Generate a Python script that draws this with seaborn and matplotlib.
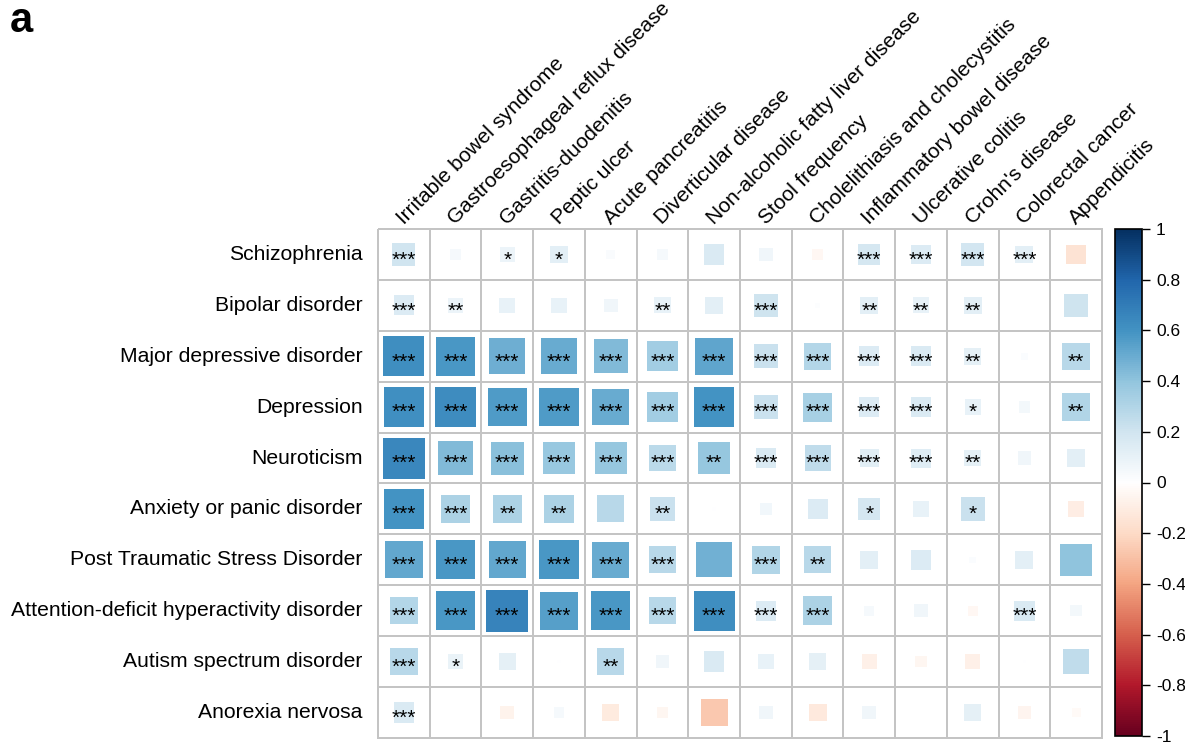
import numpy as np
import pandas as pd
import matplotlib
matplotlib.use("Agg")
import matplotlib.pyplot as plt
import matplotlib.transforms as mtransforms
from matplotlib.colors import LinearSegmentedColormap, ListedColormap, Normalize
from matplotlib.patches import Rectangle
from matplotlib.cm import ScalarMappable
import seaborn as sns

# Psychiatric traits (rows) and gastrointestinal traits (columns)
psychiatric = [
    "Schizophrenia",
    "Bipolar disorder",
    "Major depressive disorder",
    "Depression",
    "Neuroticism",
    "Anxiety or panic disorder",
    "Post Traumatic Stress Disorder",
    "Attention-deficit hyperactivity disorder",
    "Autism spectrum disorder",
    "Anorexia nervosa",
]
gastro = [
    "Irritable bowel syndrome",
    "Gastroesophageal reflux disease",
    "Gastritis-duodenitis",
    "Peptic ulcer",
    "Acute pancreatitis",
    "Diverticular disease",
    "Non-alcoholic fatty liver disease",
    "Stool frequency",
    "Cholelithiasis and cholecystitis",
    "Inflammatory bowel disease",
    "Ulcerative colitis",
    "Crohn's disease",
    "Colorectal cancer",
    "Appendicitis",
]

# Genetic correlations, one list per psychiatric trait
rg_scz = [0.20, 0.04, 0.085, 0.12, 0.03, 0.04, 0.16, 0.07, -0.04, 0.18, 0.15, 0.19, 0.12, -0.15]
rg_bip = [0.15, 0.085, 0.095, 0.095, 0.07, 0.10, 0.12, 0.21, 0.01, 0.12, 0.10, 0.12, 0.0, 0.21]
rg_mdd = [0.62, 0.58, 0.49, 0.50, 0.44, 0.35, 0.53, 0.22, 0.29, 0.15, 0.16, 0.11, 0.02, 0.28]
rg_dep = [0.61, 0.63, 0.57, 0.57, 0.50, 0.35, 0.60, 0.22, 0.33, 0.15, 0.16, 0.10, 0.05, 0.30]
rg_neu = [0.65, 0.44, 0.42, 0.38, 0.39, 0.27, 0.39, 0.16, 0.25, 0.13, 0.14, 0.11, 0.07, 0.12]
rg_anx = [0.60, 0.32, 0.32, 0.32, 0.28, 0.22, 0.005, 0.06, 0.15, 0.18, 0.095, 0.22, 0.0, -0.095]
rg_ptsd = [0.52, 0.58, 0.52, 0.58, 0.50, 0.28, 0.48, 0.30, 0.28, 0.12, 0.15, 0.017, 0.12, 0.40]
rg_adhd = [0.29, 0.58, 0.67, 0.55, 0.58, 0.28, 0.62, 0.15, 0.32, 0.04, 0.07, -0.04, 0.16, 0.05]
rg_asd = [0.28, 0.09, 0.11, 0.005, 0.28, 0.07, 0.16, 0.095, 0.11, -0.085, -0.05, -0.085, 0.004, 0.25]
rg_an = [0.16, 0.0, -0.07, 0.04, -0.11, -0.05, -0.27, 0.07, -0.12, 0.07, 0.0, 0.11, -0.06, -0.03]

# Significance marks, one list per psychiatric trait
sig_scz = ["***", "", "*", "*", "", "", "", "", "", "***", "***", "***", "***", ""]
sig_bip = ["***", "**", "", "", "", "**", "", "***", "", "**", "**", "**", "", ""]
sig_mdd = ["***", "***", "***", "***", "***", "***", "***", "***", "***", "***", "***", "**", "", "**"]
sig_dep = ["***", "***", "***", "***", "***", "***", "***", "***", "***", "***", "***", "*", "", "**"]
sig_neu = ["***", "***", "***", "***", "***", "***", "**", "***", "***", "***", "***", "**", "", ""]
sig_anx = ["***", "***", "**", "**", "", "**", "", "", "", "*", "", "*", "", ""]
sig_ptsd = ["***", "***", "***", "***", "***", "***", "", "***", "**", "", "", "", "", ""]
sig_adhd = ["***", "***", "***", "***", "***", "***", "***", "***", "***", "", "", "", "***", ""]
sig_asd = ["***", "*", "", "", "**", "", "", "", "", "", "", "", "", ""]
sig_an = ["***", "", "", "", "", "", "", "", "", "", "", "", "", ""]

rg = pd.DataFrame(
    [rg_scz, rg_bip, rg_mdd, rg_dep, rg_neu, rg_anx, rg_ptsd, rg_adhd, rg_asd, rg_an],
    index=psychiatric, columns=gastro,
)
sig = pd.DataFrame(
    [sig_scz, sig_bip, sig_mdd, sig_dep, sig_neu, sig_anx, sig_ptsd, sig_adhd, sig_asd, sig_an],
    index=psychiatric, columns=gastro,
)

sns.set_theme(style="white")
plt.rcParams["font.family"] = ["Liberation Sans", "DejaVu Sans"]
plt.rcParams["text.color"] = "black"
plt.rcParams["xtick.color"] = "black"
plt.rcParams["ytick.color"] = "black"

# Red-white-blue diverging palette
cmap = LinearSegmentedColormap.from_list(
    "rdbu_corr",
    ["#67001F", "#B2182B", "#D6604D", "#F4A582", "#FDDBC7", "#FFFFFF",
     "#D1E5F0", "#92C5DE", "#4393C3", "#2166AC", "#053061"],
    N=256,
)
norm = Normalize(vmin=-1, vmax=1)

W, H = 1185, 745
fig = plt.figure(figsize=(W / 100, H / 100), dpi=100)
ax = fig.add_axes([378 / W, 1 - 738 / H, (1102 - 378) / W, (738 - 229) / H])

# White cells with grey gridlines
sns.heatmap(
    np.zeros(rg.shape), cmap=ListedColormap(["white"]), cbar=False,
    linewidths=1.1, linecolor="#c4c4c4", ax=ax,
)
ax.collections[0].set_clip_on(False)

# Squares: side proportional to sqrt(|rg|), colour by rg
for i, trait in enumerate(psychiatric):
    for j, gi in enumerate(gastro):
        r = rg.loc[trait, gi]
        s = np.sqrt(abs(r))
        if s > 0:
            ax.add_patch(Rectangle((j + 0.5 - s / 2, i + 0.5 - s / 2), s, s,
                                   facecolor=cmap(norm(r)), edgecolor="none", zorder=2))
        mark = sig.loc[trait, gi]
        if mark:
            ax.text(j + 0.5, i + 0.61, mark, ha="center", va="center",
                    fontsize=15, color="black", zorder=3)

ax.set_xlim(0, len(gastro))
ax.set_ylim(len(psychiatric), 0)

ax.set_yticks(np.arange(len(psychiatric)) + 0.5)
ax.set_yticklabels(psychiatric, rotation=0, fontsize=15.2)
ax.xaxis.tick_top()
ax.set_xticks(np.arange(len(gastro)) + 0.5)
ax.set_xticklabels(gastro, rotation=45, ha="left", va="baseline",
                   rotation_mode="anchor", fontsize=15)
shift = mtransforms.ScaledTranslation(-6 / 100, 0, fig.dpi_scale_trans)
for lab in ax.get_xticklabels():
    lab.set_transform(lab.get_transform() + shift)
ax.tick_params(axis="x", length=0, pad=3)
ax.tick_params(axis="y", length=0, pad=11)
ax.set_xlabel("")
ax.set_ylabel("")

# Colour bar
cax = fig.add_axes([1115 / W, 1 - 736 / H, 27 / W, 507 / H])
ticks = np.round(np.linspace(-1, 1, 11), 1)
cb = fig.colorbar(ScalarMappable(norm=norm, cmap=cmap), cax=cax, ticks=ticks)
cb.ax.set_yticklabels(["-1", "-0.8", "-0.6", "-0.4", "-0.2", "0", "0.2", "0.4", "0.6", "0.8", "1"])
cb.outline.set_edgecolor("black")
cb.outline.set_linewidth(1.2)
cb.ax.tick_params(length=6, width=1, labelsize=12.5, pad=4, color="black", right=True)

fig.text(10 / W, 1 - 32 / H, "a", fontsize=30, fontweight="bold", va="baseline")

fig.savefig("out.png", dpi=100)
